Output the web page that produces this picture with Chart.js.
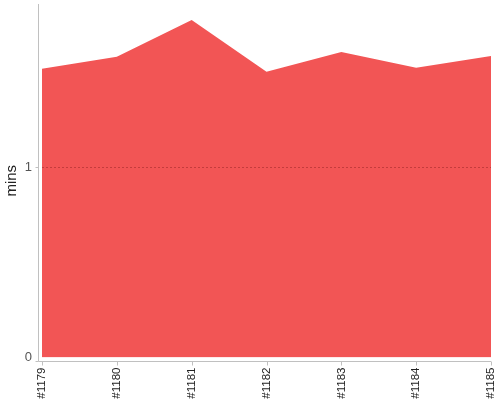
<!DOCTYPE html>
<html>
<head>
<meta charset="utf-8">
<script src="https://cdn.jsdelivr.net/npm/chart.js@4"></script>
<style>
  html, body { margin: 0; padding: 0; background: #fff; }
  #wrap { width: 500px; height: 400px; }
</style>
</head>
<body>
<div id="wrap"><canvas id="buildChart"></canvas></div>
<script>
const builds = ["#1179", "#1180", "#1181", "#1182", "#1183", "#1184", "#1185"];
const durations = [1.516, 1.579, 1.772, 1.500, 1.604, 1.521, 1.583];
const yTicks = [0, 1];

// axis lines sit a few px off the plot area, like the original
const axisLines = {
  id: 'axisLines',
  afterDraw(chart) {
    const ctx = chart.ctx;
    const a = chart.chartArea;
    const xs = chart.scales.x;
    const ax = a.left - 3.5, ay = a.bottom + 4;
    ctx.save();
    ctx.strokeStyle = '#c0c0c0';
    ctx.lineWidth = 1;
    ctx.beginPath();
    ctx.moveTo(ax, a.top);
    ctx.lineTo(ax, ay);
    ctx.lineTo(a.right, ay);
    builds.forEach(function (b, i) {
      const px = Math.round(xs.getPixelForValue(i)) + 0.5;
      ctx.moveTo(px, ay);
      ctx.lineTo(px, ay + 4);
    });
    yTicks.forEach(function (t) {
      const py = Math.round(chart.scales.y.getPixelForValue(t)) + 0.5;
      ctx.moveTo(ax - 3, t === 0 ? ay : py);
      ctx.lineTo(ax, t === 0 ? ay : py);
    });
    ctx.stroke();
    ctx.restore();
  }
};

const data = {
  labels: builds,
  datasets: [{
    label: 'mins',
    data: durations,
    fill: 'origin',
    backgroundColor: 'rgb(242, 85, 85)',
    borderWidth: 0,
    pointRadius: 0,
    tension: 0
  }]
};

const config = {
  type: 'line',
  data: data,
  plugins: [axisLines],
  options: {
    responsive: true,
    maintainAspectRatio: false,
    animation: false,
    layout: { padding: { top: 4, right: 9, left: 0, bottom: 0 } },
    plugins: {
      legend: { display: false },
      tooltip: { enabled: false }
    },
    scales: {
      x: {
        offset: false,
        grid: { display: false },
        border: { display: false },
        ticks: {
          minRotation: 90,
          maxRotation: 90,
          padding: 2,
          color: '#222',
          font: { family: 'Liberation Sans, Arial', size: 11.5 }
        },
        afterFit: function (scale) {
          scale.height = 42.5;
          scale.paddingLeft = 0;
          scale.paddingRight = 0;
        }
      },
      y: {
        min: 0,
        max: 1.856,
        afterBuildTicks: function (scale) {
          scale.ticks = yTicks.map(function (v) { return { value: v }; });
        },
        grid: {
          z: 1,
          drawTicks: false,
          color: function (c) { return c.tick && c.tick.value === 1 ? 'rgba(140, 30, 30, 0.45)' : 'rgba(0,0,0,0)'; },
          lineWidth: 1
        },
        border: { display: false, dash: [2, 2] },
        ticks: {
          padding: 10,
          color: '#555',
          font: { family: 'Liberation Sans, Arial', size: 13 }
        },
        title: {
          display: true,
          text: 'mins',
          color: '#222',
          padding: { top: 3, bottom: 0 },
          font: { family: 'Liberation Sans, Arial', size: 15 }
        },
        afterFit: function (scale) {
          scale.width = 42;
          scale.paddingTop = 0;
          scale.paddingBottom = 0;
        }
      }
    }
  }
};

const buildChart = new Chart(document.getElementById('buildChart'), config);
</script>
</body>
</html>
